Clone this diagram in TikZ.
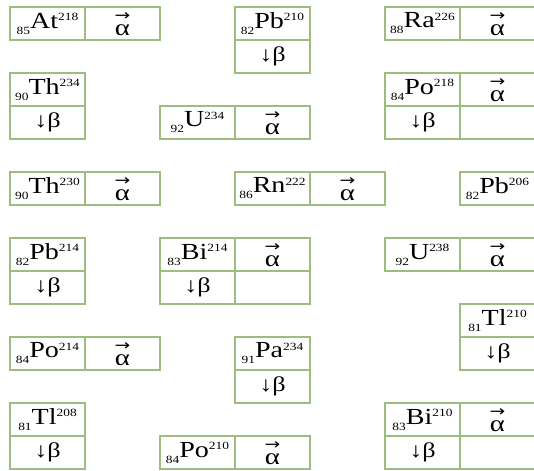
\documentclass[tikz,border=0pt]{standalone}
\usepackage{fontspec}
\usepackage{graphicx}
\setmainfont{Liberation Serif}
\newfontfamily\arrowfont{DejaVu Sans}
\definecolor{boxgreen}{RGB}{157,188,128}
\newcommand\iso[3]{\scalebox{1.22}[1]{{\fontsize{11}{11}\selectfont\raisebox{-6pt}{#1}}{\fontsize{23}{23}\selectfont #2}{\fontsize{11}{11}\selectfont\raisebox{7.8pt}{#3}}}}
\newcommand\va{\raisebox{0pt}[23.4pt][0pt]{\scalebox{1.25}[1]{\fontsize{23}{23}\selectfont\setbox0\hbox{α}\setbox2\hbox{\arrowfont\fontsize{15}{15}\selectfont →}\rlap{\hbox to \wd0{\hss\raisebox{14.5pt}{\box2}\hss}}\box0}}}
\newcommand\vb{\scalebox{1.25}[1]{\fontsize{21}{21}\selectfont ↓β}}
\newcommand\cell[4]{\node[cellbox] (#1) at ({10+75*#2},{7+33*#3}) {#4};}
\begin{document}
\begin{tikzpicture}[x=1pt,y=-1pt,
  cellbox/.style={draw=boxgreen, line width=2.2pt, inner sep=0pt, outer sep=0pt,
    minimum width=75pt, minimum height=33pt, anchor=north west}]
\useasboundingbox (0,0) rectangle (534,470);
\clip (0,0) rectangle (534,470);
% row 0-1
\cell{at}{0}{0}{\iso{85}{At}{218}}
\cell{ata}{1}{0}{\va}
\cell{pbten}{3}{0}{\iso{82}{Pb}{210}}
\cell{pbtenb}{3}{1}{\vb}
\cell{ra}{5}{0}{\iso{88}{Ra}{226}}
\cell{raa}{6}{0}{\va}
% rows 2-3
\cell{thA}{0}{2}{\iso{90}{Th}{234}}
\cell{thAb}{0}{3}{\vb}
\cell{uA}{2}{3}{\iso{92}{U}{234}}
\cell{uAa}{3}{3}{\va}
\cell{poA}{5}{2}{\iso{84}{Po}{218}}
\cell{poAa}{6}{2}{\va}
\cell{poAb}{5}{3}{\vb}
\cell{poAc}{6}{3}{}
% row 5
\cell{thB}{0}{5}{\iso{90}{Th}{230}}
\cell{thBa}{1}{5}{\va}
\cell{rn}{3}{5}{\iso{86}{Rn}{222}}
\cell{rna}{4}{5}{\va}
\cell{pbsix}{6}{5}{\iso{82}{Pb}{206}}
% rows 7-8
\cell{pbB}{0}{7}{\iso{82}{Pb}{214}}
\cell{pbBb}{0}{8}{\vb}
\cell{biA}{2}{7}{\iso{83}{Bi}{214}}
\cell{biAa}{3}{7}{\va}
\cell{biAb}{2}{8}{\vb}
\cell{biAc}{3}{8}{}
\cell{uB}{5}{7}{\iso{92}{U}{238}}
\cell{uBa}{6}{7}{\va}
% rows 9-11
\cell{tlA}{6}{9}{\iso{81}{Tl}{210}}
\cell{tlAb}{6}{10}{\vb}
\cell{poB}{0}{10}{\iso{84}{Po}{214}}
\cell{poBa}{1}{10}{\va}
\cell{pa}{3}{10}{\iso{91}{Pa}{234}}
\cell{pab}{3}{11}{\vb}
% rows 12-13
\cell{tlB}{0}{12}{\iso{81}{Tl}{208}}
\cell{tlBb}{0}{13}{\vb}
\cell{poC}{2}{13}{\iso{84}{Po}{210}}
\cell{poCa}{3}{13}{\va}
\cell{biB}{5}{12}{\iso{83}{Bi}{210}}
\cell{biBa}{6}{12}{\va}
\cell{biBb}{5}{13}{\vb}
\cell{biBc}{6}{13}{}
\end{tikzpicture}
\end{document}
